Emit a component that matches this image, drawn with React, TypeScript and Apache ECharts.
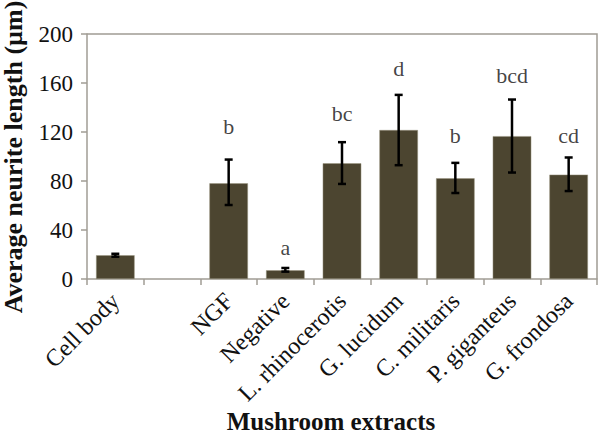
import React, { useEffect, useRef } from "react";
import * as echarts from "echarts";

const categories = ["Cell body", "", "NGF", "Negative", "L. rhinocerotis", "G. lucidum", "C. militaris", "P. giganteus", "G. frondosa"];
const means = [19.4, null, 78.1, 7.1, 94.5, 121.6, 82.2, 116.6, 85.2];
const errLow = [18.2, null, 60.4, 6.0, 77.6, 92.9, 70.2, 86.9, 71.8];
const errHigh = [20.6, null, 97.5, 9.0, 111.7, 150.3, 94.8, 146.5, 99.2];
const letters = ["", "", "b", "a", "bc", "d", "b", "bcd", "cd"];
const letterY = [null, null, 124.6, 25.6, 135, 172, 117, 166.4, 117];
const yTicks = { min: 0, max: 200, interval: 40 };
const xTitle = "Mushroom extracts";
const yTitle = "Average neurite length (µm)";

const FONT = "'Liberation Serif', 'Times New Roman', serif";

export default function App() {
  const ref = useRef<HTMLDivElement>(null);
  useEffect(() => {
    if (!ref.current) return;
    const chart = echarts.init(ref.current, null, { renderer: "svg" });
    const errData = categories.map((_, i) => [i, errLow[i], errHigh[i]]).filter((d) => d[1] != null);
    const letterData = categories
      .map((_, i) => ({ value: [i, letterY[i]], label: letters[i] }))
      .filter((d) => d.value[1] != null);
    chart.setOption({
      animation: false,
      grid: { left: 87, right: 3, top: 34, bottom: 159, containLabel: false, outerBoundsMode: "none" },
      xAxis: {
        type: "category",
        data: categories,
        axisLine: { lineStyle: { color: "#a09c94", width: 1.5 } },
        axisTick: { show: true, length: 6, interval: 0, lineStyle: { color: "#a09c94", width: 1.5 } },
        axisLabel: { interval: 0, rotate: 45, margin: 18, fontFamily: FONT, fontSize: 24, color: "#111" },
        splitLine: { show: false },
      },
      yAxis: {
        type: "value",
        min: yTicks.min,
        max: yTicks.max,
        interval: yTicks.interval,
        axisLine: { show: true, lineStyle: { color: "#a09c94", width: 1.5 } },
        axisTick: { show: true, length: 6, lineStyle: { color: "#a09c94", width: 1.5 } },
        axisLabel: { margin: 14, fontFamily: FONT, fontSize: 23, color: "#111" },
        splitLine: { show: false },
      },
      graphic: [
        {
          type: "polyline",
          shape: { points: [[87, 34], [597, 34], [597, 279]] },
          style: { stroke: "#a09c94", lineWidth: 1.5, fill: "none" },
          silent: true,
        },
        {
          type: "text",
          x: 331,
          y: 434,
          style: {
            text: xTitle,
            font: `bold 25px ${FONT}`,
            fill: "#111",
            textAlign: "center",
            textVerticalAlign: "bottom",
          },
        },
        {
          type: "text",
          x: 13,
          y: 157,
          rotation: Math.PI / 2,
          style: {
            text: yTitle,
            font: `bold 26px ${FONT}`,
            fill: "#111",
            textAlign: "center",
            textVerticalAlign: "middle",
          },
        },
      ],
      series: [
        {
          type: "bar",
          data: means,
          barWidth: "68%",
          itemStyle: { color: "#4c4530", borderColor: "#9a9680", borderWidth: 0.5 },
        },
        {
          type: "custom",
          data: errData,
          z: 5,
          renderItem: (params: any, api: any) => {
            const x = api.coord([api.value(0), 0])[0];
            const lo = api.coord([api.value(0), api.value(1)])[1];
            const hi = api.coord([api.value(0), api.value(2)])[1];
            const cap = 4;
            const style = { stroke: "#000", lineWidth: 2.5, fill: "none" };
            return {
              type: "group",
              children: [
                { type: "line", shape: { x1: x, y1: lo, x2: x, y2: hi }, style },
                { type: "line", shape: { x1: x - cap, y1: lo, x2: x + cap, y2: lo }, style },
                { type: "line", shape: { x1: x - cap, y1: hi, x2: x + cap, y2: hi }, style },
              ],
            };
          },
        },
        {
          type: "scatter",
          data: letterData.map((d) => ({ value: d.value, label: { formatter: d.label } })),
          symbolSize: 0,
          label: {
            show: true,
            position: "inside",
            fontFamily: FONT,
            fontSize: 22,
            color: "#111",
          },
        },
      ],
    });
    return () => chart.dispose();
  }, []);
  return <div ref={ref} style={{ width: 600, height: 438, position: "absolute", left: 0, top: 0, background: "#fff" }} />;
}
